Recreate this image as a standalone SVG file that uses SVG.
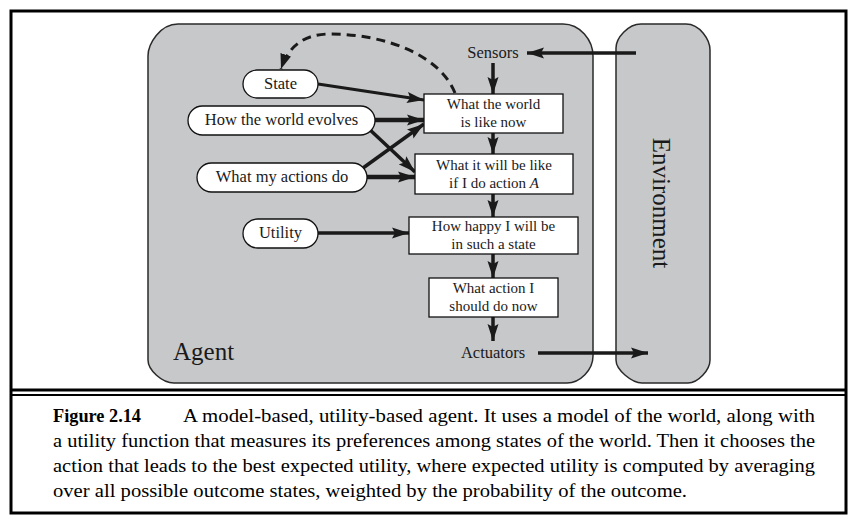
<svg xmlns="http://www.w3.org/2000/svg" width="854" height="522" viewBox="0 0 854 522">
<style>
.frame{fill:none;stroke:#000;stroke-width:3}
.panel{fill:#c7c8ca;stroke:#2a2a2a;stroke-width:1.5}
.box{fill:#fff;stroke:#111;stroke-width:1.3}
.t{font-family:"Liberation Serif","Times New Roman",serif;font-size:16.5px;fill:#1a1a1a;text-anchor:middle}
.bt{font-family:"Liberation Serif","Times New Roman",serif;font-size:15px;fill:#1a1a1a;text-anchor:middle}
.big{font-family:"Liberation Serif","Times New Roman",serif;font-size:25px;fill:#1a1a1a}
.cap{font-family:"Liberation Serif","Times New Roman",serif;font-size:19.5px;fill:#000}
.arr{fill:none;stroke:#1a1a1a;stroke-width:3.5;marker-end:url(#ah)}
.thick{stroke-width:4.5}
.thin{stroke-width:3}
.dash{fill:none;stroke:#1a1a1a;stroke-width:3;stroke-dasharray:9 6;marker-end:url(#ah2)}
</style>
<defs>
<marker id="ah" markerUnits="userSpaceOnUse" markerWidth="18" markerHeight="12" refX="17" refY="6" orient="auto">
<path d="M0,0.5 L17,6 L0,11.5 L3,6 z" fill="#1a1a1a"/>
</marker>
<marker id="ah2" markerUnits="userSpaceOnUse" markerWidth="16" markerHeight="12" refX="15" refY="6" orient="auto">
<path d="M0,0.5 L15,6 L0,11.5 z" fill="#1a1a1a"/>
</marker>
</defs>
<rect width="854" height="522" fill="#fff"/>
<rect class="frame" x="11" y="11" width="835" height="502"/>
<line x1="11" y1="390" x2="846" y2="390" stroke="#000" stroke-width="3"/>
<line x1="11" y1="395" x2="846" y2="395" stroke="#000" stroke-width="2"/>

<g id="agent">
<path class="panel" d="M178,24 L563,24 C580,24 593,40 593,56 L593,356 C593,370 580,383 567,383 L174,383 C162,383 148,370 148,360 L148,56 C148,44 160,24 178,24 Z"/>
<text class="big" x="173" y="360">Agent</text>
</g>
<g id="environment">
<path class="panel" d="M641,24 L686,24 C700,24 710,40 710,50 L710,360 C710,370 698,383 688,383 L642,383 C632,383 616,370 616,360 L616,48 C616,38 628,24 641,24 Z"/>
<text class="big" transform="translate(653,203) rotate(90)" text-anchor="middle">Environment</text>
</g>

<g id="connectors">
<path class="arr" d="M636,53 L527,53"/>
<path class="arr" d="M493,63 L493,94"/>
<path class="arr" d="M493,133 L493,154"/>
<path class="arr" d="M493,194 L493,217"/>
<path class="arr" d="M493,254 L493,278"/>
<path class="arr" d="M493,317 L493,341"/>
<path class="arr" d="M538,353 L648,353"/>
<path class="arr thin" d="M318,84 L424,100"/>
<path class="arr thick" d="M375,120 L424,120"/>
<path class="arr" d="M368,128 L415,172"/>
<path class="arr" d="M363,168 L424,124"/>
<path class="arr thick" d="M367,177 L415,177"/>
<path class="arr" d="M318,233 L409,233"/>
<path class="dash" d="M455,93 C440,55 385,34 330,34 C302,34 288,48 281,69"/>
</g>

<g id="sensors"><text class="t" x="493" y="58">Sensors</text></g>
<g id="actuators"><text class="t" x="493" y="358">Actuators</text></g>

<g id="state"><rect class="box" x="243" y="70" width="75" height="28" rx="14"/><text class="t" x="280.5" y="89">State</text></g>
<g id="evolves"><rect class="box" x="188" y="106" width="187" height="29" rx="14.5"/><text class="t" x="281.5" y="125">How the world evolves</text></g>
<g id="actions"><rect class="box" x="197" y="163" width="170" height="29" rx="14.5"/><text class="t" x="282" y="182">What my actions do</text></g>
<g id="utility"><rect class="box" x="243" y="219" width="75" height="29" rx="14.5"/><text class="t" x="280.5" y="238">Utility</text></g>

<g id="world-now"><rect class="box" x="424" y="94" width="139" height="39"/><text class="bt" x="493.5" y="109">What the world</text><text class="bt" x="493.5" y="127">is like now</text></g>
<g id="will-be"><rect class="box" x="415" y="154" width="158" height="40"/><text class="bt" x="494" y="170">What it will be like</text><text class="bt" x="494" y="188">if I do action <tspan font-style="italic">A</tspan></text></g>
<g id="happy"><rect class="box" x="409" y="217" width="169" height="37"/><text class="bt" x="493.5" y="231">How happy I will be</text><text class="bt" x="493.5" y="249">in such a state</text></g>
<g id="action-now"><rect class="box" x="429" y="278" width="129" height="39"/><text class="bt" x="493.5" y="293">What action I</text><text class="bt" x="493.5" y="311">should do now</text></g>

<g id="caption">
<text class="cap" x="53" y="422" font-weight="bold" textLength="88" lengthAdjust="spacingAndGlyphs">Figure 2.14</text>
<text class="cap" x="183" y="422" textLength="632" lengthAdjust="spacingAndGlyphs">A model-based, utility-based agent. It uses a model of the world, along with</text>
<text class="cap" x="53" y="447" textLength="762" lengthAdjust="spacingAndGlyphs">a utility function that measures its preferences among states of the world. Then it chooses the</text>
<text class="cap" x="53" y="472" textLength="762" lengthAdjust="spacingAndGlyphs">action that leads to the best expected utility, where expected utility is computed by averaging</text>
<text class="cap" x="53" y="497" textLength="634" lengthAdjust="spacingAndGlyphs">over all possible outcome states, weighted by the probability of the outcome.</text>
</g>
</svg>
